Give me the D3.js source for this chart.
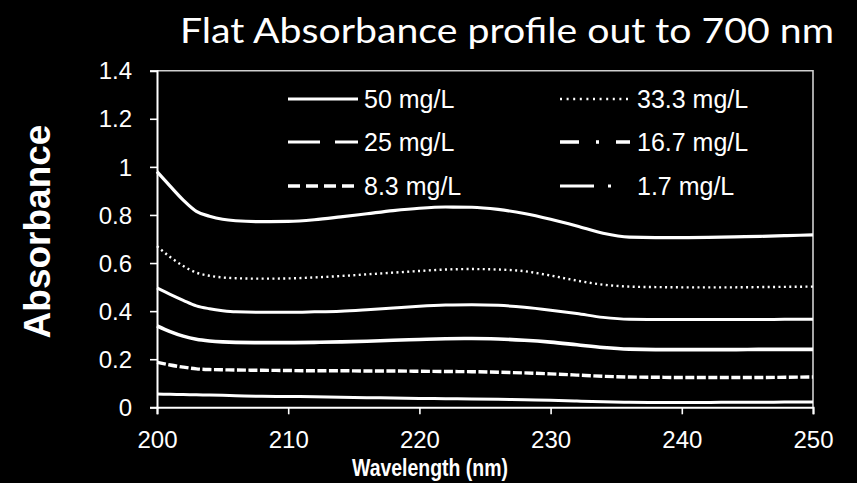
<!DOCTYPE html>
<html>
<head>
<meta charset="utf-8">
<script src="https://cdn.jsdelivr.net/npm/d3@7/dist/d3.min.js"></script>
<style>
  html, body { margin: 0; padding: 0; background: #000; }
  svg { display: block; }
</style>
</head>
<body>
<svg id="chart" width="857" height="483"></svg>
<script>
// Wavelength grid (nm) and absorbance readings for each concentration
const wavelengths = [200,201,202,203,204,205,206,208,210,212,214,216,218,220,222,224,226,228,230,232,234,236,238,240,242,244,246,248,250];
const abs50  = [0.980,0.920,0.862,0.815,0.795,0.782,0.776,0.772,0.773,0.780,0.792,0.805,0.818,0.828,0.833,0.832,0.823,0.806,0.782,0.754,0.724,0.708,0.706,0.706,0.707,0.709,0.711,0.714,0.717];
const abs333 = [0.670,0.625,0.588,0.560,0.547,0.540,0.537,0.535,0.536,0.540,0.546,0.553,0.560,0.567,0.573,0.575,0.573,0.566,0.548,0.527,0.510,0.502,0.500,0.499,0.499,0.499,0.500,0.501,0.502];
const abs25  = [0.497,0.470,0.445,0.422,0.410,0.402,0.397,0.395,0.395,0.397,0.400,0.406,0.413,0.420,0.425,0.427,0.424,0.416,0.404,0.390,0.374,0.366,0.365,0.365,0.365,0.365,0.365,0.366,0.366];
const abs167 = [0.339,0.315,0.296,0.283,0.276,0.272,0.270,0.269,0.269,0.270,0.272,0.275,0.279,0.282,0.285,0.286,0.284,0.279,0.271,0.260,0.249,0.242,0.240,0.240,0.240,0.240,0.241,0.241,0.241];
const abs83  = [0.187,0.176,0.167,0.160,0.157,0.156,0.155,0.154,0.153,0.152,0.152,0.151,0.151,0.150,0.149,0.148,0.146,0.143,0.139,0.134,0.129,0.126,0.125,0.124,0.124,0.124,0.124,0.125,0.126];
const abs17  = [0.055,0.054,0.053,0.052,0.051,0.050,0.048,0.046,0.045,0.044,0.042,0.040,0.039,0.037,0.036,0.035,0.033,0.031,0.029,0.026,0.023,0.021,0.020,0.020,0.020,0.021,0.021,0.022,0.022];

const seriesNames = ["50 mg/L", "33.3 mg/L", "25 mg/L", "16.7 mg/L", "8.3 mg/L", "1.7 mg/L"];
const seriesValues = [abs50, abs333, abs25, abs167, abs83, abs17];

const xTicks = [200, 210, 220, 230, 240, 250];
const yTicks = [0, 0.2, 0.4, 0.6, 0.8, 1, 1.2, 1.4];

const titleText = "Flat Absorbance profile out to 700 nm";
const xLabel = "Wavelength (nm)";
const yLabel = "Absorbance";

// Line styles: dash pattern on the curves and in the legend key
const lineStyles = [
  { width: 3.2, plotDash: null,          keyDash: null },
  { width: 2.4, plotDash: "2,3.4",       keyDash: "2,4.6" },
  { width: 3.0, plotDash: null,          keyDash: "32,15" },
  { width: 3.6, plotDash: null,          keyDash: "19,17,3,17" },
  { width: 3.4, plotDash: "9,2.5",       keyDash: "12,6" },
  { width: 3.0, plotDash: null,          keyDash: "34,14,3,40" }
];

const svg = d3.select("#chart");
svg.append("rect").attr("width", 857).attr("height", 483).attr("fill", "#000");

const plot = { left: 157, right: 813, top: 70.7, bottom: 407.3 };

const x = d3.scaleLinear().domain([200, 250]).range([plot.left, plot.right]);
const y = d3.scaleLinear().domain([0, 1.4]).range([plot.bottom, plot.top]);

// Frame: light top/right edges
svg.append("path")
  .attr("d", `M${plot.left},${plot.top}H${plot.right}V${plot.bottom}`)
  .attr("fill", "none").attr("stroke", "#d0d0d0").attr("stroke-width", 1.6);

// Axes
const fontAxis = "'Liberation Sans', Arial, sans-serif";
const yAxis = svg.append("g")
  .attr("transform", `translate(${plot.left},0)`)
  .call(d3.axisLeft(y).tickValues(yTicks).tickSize(7).tickPadding(18)
        .tickFormat(d => d3.format("~g")(d)));
const xAxis = svg.append("g")
  .attr("transform", `translate(0,${plot.bottom})`)
  .call(d3.axisBottom(x).tickValues(xTicks).tickSize(7).tickPadding(17)
        .tickFormat(d3.format("d")));

[xAxis, yAxis].forEach(g => {
  g.select(".domain").attr("stroke", "#fff").attr("stroke-width", 2);
  g.selectAll(".tick line").attr("stroke", "#fff").attr("stroke-width", 1.6);
  g.selectAll(".tick text").attr("fill", "#fff")
    .style("font-family", fontAxis).style("font-size", "24px");
});
yAxis.selectAll(".tick text").attr("dy", "0.34em");

// Curves
const line = d3.line()
  .x((d, i) => x(wavelengths[i]))
  .y(d => y(d))
  .curve(d3.curveMonotoneX);

svg.append("g").selectAll("path.series")
  .data(seriesValues)
  .join("path")
  .attr("class", "series")
  .attr("d", line)
  .attr("fill", "none")
  .attr("stroke", "#fff")
  .attr("stroke-width", (d, i) => lineStyles[i].width)
  .attr("stroke-dasharray", (d, i) => lineStyles[i].plotDash)
  .attr("stroke-linejoin", "round");

// Legend: two columns, three rows
const legend = svg.append("g");
const legendCols = [288, 560];
const legendRows = [99, 142, 186];
seriesNames.forEach((name, i) => {
  const cx = legendCols[i % 2];
  const cy = legendRows[Math.floor(i / 2)];
  legend.append("line")
    .attr("x1", cx).attr("x2", cx + 70)
    .attr("y1", cy).attr("y2", cy)
    .attr("stroke", "#fff")
    .attr("stroke-width", lineStyles[i].width)
    .attr("stroke-dasharray", lineStyles[i].keyDash);
  legend.append("text")
    .attr("x", cx + (i % 2 ? 77 : 76)).attr("y", cy)
    .attr("dy", "0.35em")
    .attr("fill", "#fff")
    .style("font-family", fontAxis).style("font-size", "25px")
    .text(name);
});

// Title
const title = svg.append("text")
  .attr("x", 180).attr("y", 43)
  .attr("fill", "#fff")
  .style("font-family", "Lato, 'Open Sans', sans-serif")
  .style("font-size", "35px")
  .text(titleText);
const tw = title.node().getComputedTextLength();
if (Math.abs(tw - 654) > 2) title.attr("textLength", 654).attr("lengthAdjust", "spacingAndGlyphs");

// Axis titles
const xt = svg.append("text")
  .attr("x", 430).attr("y", 476)
  .attr("text-anchor", "middle")
  .attr("fill", "#fff")
  .style("font-family", fontAxis).style("font-weight", "bold")
  .style("font-size", "24px")
  .text(xLabel);
if (xt.node().getComputedTextLength() > 158) xt.attr("textLength", 156).attr("lengthAdjust", "spacingAndGlyphs");

svg.append("text")
  .attr("transform", "translate(50,231.5) rotate(-90)")
  .attr("text-anchor", "middle")
  .attr("fill", "#fff")
  .style("font-family", fontAxis).style("font-weight", "bold")
  .style("font-size", "37px")
  .text(yLabel);
</script>
</body>
</html>
